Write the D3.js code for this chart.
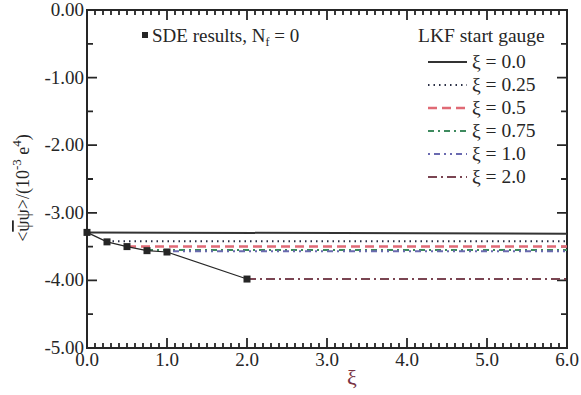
<!DOCTYPE html>
<html><head><meta charset="utf-8">
<script src="https://cdn.jsdelivr.net/npm/d3@7"></script>
<style>body{margin:0;background:#fff;} svg{display:block;} text{font-family:"Liberation Serif","DejaVu Serif",serif;}</style>
</head><body>
<svg id="c" width="581" height="395"></svg>
<script>
// ---- data ----
const sdeXi = [0, 0.25, 0.5, 0.75, 1.0, 2.0];
const sdeVal = [-3.29, -3.43, -3.50, -3.56, -3.58, -3.98];
const lkfLabels = ["ξ = 0.0", "ξ = 0.25", "ξ = 0.5", "ξ = 0.75", "ξ = 1.0", "ξ = 2.0"];
const lkfStart = [0, 0.25, 0.5, 0.75, 1.0, 2.0];
const lkfStartVal = [-3.29, -3.42, -3.50, -3.55, -3.57, -3.98];
const lkfEndVal = [-3.31, -3.42, -3.50, -3.55, -3.57, -3.98];
const xTicks = [0, 1, 2, 3, 4, 5, 6];
const xTickLabels = ["0.0", "1.0", "2.0", "3.0", "4.0", "5.0", "6.0"];
const yTicks = [0, -1, -2, -3, -4, -5];
const yTickLabels = ["0.00", "-1.00", "-2.00", "-3.00", "-4.00", "-5.00"];

// ---- styles ----
const colors = ["#333333", "#2a2f45", "#e06a75", "#3e8a5e", "#6a6ab0", "#7a4552"];
const dashes = [null, "1.5,4", "9,5", "6,4,2,4", "2,4,6,4,2,4", "9,4,2,4"];
const widths = [2, 2, 2.5, 2, 2, 2];
const ink = "#262626";

const svg = d3.select("#c");
const L = 87, R = 567, T = 10, B = 348;
const xs = d3.scaleLinear().domain([0, 6]).range([L, R]);
const ys = d3.scaleLinear().domain([-5, 0]).range([B, T]);

const xMinor = d3.range(0, 61, 1).map(d => d / 10).filter(d => Math.abs(d - Math.round(d)) > 1e-6);
const yMinor = [-0.5, -1.5, -2.5, -3.5, -4.5];

// ticks as one path
const p = d3.path();
function addX(vals, len) {
  vals.forEach(v => {
    const px = xs(v);
    p.moveTo(px, B); p.lineTo(px, B - len);
    p.moveTo(px, T); p.lineTo(px, T + len);
  });
}
function addY(vals, len) {
  vals.forEach(v => {
    const py = ys(v);
    p.moveTo(L, py); p.lineTo(L + len, py);
    p.moveTo(R, py); p.lineTo(R - len, py);
  });
}
addX(xTicks, 10); addX(xMinor, 5); addY(yTicks, 10); addY(yMinor, 6);
svg.append("path").attr("d", p.toString()).attr("fill", "none").attr("stroke", ink).attr("stroke-width", 1.8);

// tick labels
svg.selectAll("text.xl").data(xTicks).enter().append("text").attr("class", "xl")
  .attr("x", d => xs(d)).attr("y", B + 18).attr("text-anchor", "middle").attr("font-size", 19).attr("fill", ink)
  .text((d, i) => xTickLabels[i]);
svg.selectAll("text.yl").data(yTicks).enter().append("text").attr("class", "yl")
  .attr("x", L - 3).attr("y", d => ys(d) + 6).attr("text-anchor", "end").attr("font-size", 19).attr("fill", ink)
  .text((d, i) => yTickLabels[i]);

// frame
svg.append("rect").attr("x", L).attr("y", T).attr("width", R - L).attr("height", B - T)
  .attr("fill", "none").attr("stroke", ink).attr("stroke-width", 2);

// LKF lines
const line = d3.line().x(d => xs(d[0])).y(d => ys(d[1]));
lkfStart.forEach((s, i) => {
  svg.append("path").datum([[s, lkfStartVal[i]], [6, lkfEndVal[i]]])
    .attr("d", line).attr("fill", "none").attr("stroke", colors[i])
    .attr("stroke-width", widths[i]).attr("stroke-dasharray", dashes[i]);
});

// SDE results
const sdeData = sdeXi.map((d, i) => [d, sdeVal[i]]);
svg.append("path").datum(sdeData).attr("d", line).attr("fill", "none").attr("stroke", ink).attr("stroke-width", 1.2);
svg.selectAll("rect.sde").data(sdeData).enter().append("rect").attr("class", "sde")
  .attr("x", d => xs(d[0]) - 3.5).attr("y", d => ys(d[1]) - 3.5).attr("width", 7).attr("height", 7).attr("fill", ink);

// SDE legend
svg.append("rect").attr("x", 142).attr("y", 32).attr("width", 6).attr("height", 6).attr("fill", ink);
const sdeT = svg.append("text").attr("x", 152).attr("y", 42).attr("font-size", 19).attr("fill", ink);
sdeT.append("tspan").text("SDE results, N");
sdeT.append("tspan").attr("font-size", 12).attr("dy", 4).text("f");
sdeT.append("tspan").attr("dy", -4).text(" = 0");

// LKF legend
svg.append("text").attr("x", 418).attr("y", 42).attr("font-size", 19.5).attr("fill", ink).text("LKF start gauge");
const rowY = [62, 85, 108, 131, 154, 177];
lkfLabels.forEach((lab, i) => {
  svg.append("line").attr("x1", 428).attr("x2", 467).attr("y1", rowY[i]).attr("y2", rowY[i])
    .attr("stroke", colors[i]).attr("stroke-width", widths[i]).attr("stroke-dasharray", dashes[i]);
  svg.append("text").attr("x", 472).attr("y", rowY[i] + 6).attr("font-size", 19.5).attr("fill", ink).text(lab);
});

// axis titles
svg.append("text").attr("x", 352).attr("y", 385).attr("text-anchor", "middle").attr("font-size", 22)
  .attr("fill", "#7a3545").text("ξ");
const ytl = svg.append("text").attr("transform", "translate(29,188) rotate(-90)").attr("text-anchor", "middle")
  .attr("font-size", 18).attr("fill", ink);
ytl.append("tspan").text("<");
ytl.append("tspan").attr("text-decoration", "overline").text("ψ");
ytl.append("tspan").text("ψ>/(10");
ytl.append("tspan").attr("font-size", 13).attr("dy", -8).text("-3");
ytl.append("tspan").attr("dy", 8).text(" e");
ytl.append("tspan").attr("font-size", 13).attr("dy", -8).text("4");
ytl.append("tspan").attr("dy", 8).text(")");
</script>
</body></html>
